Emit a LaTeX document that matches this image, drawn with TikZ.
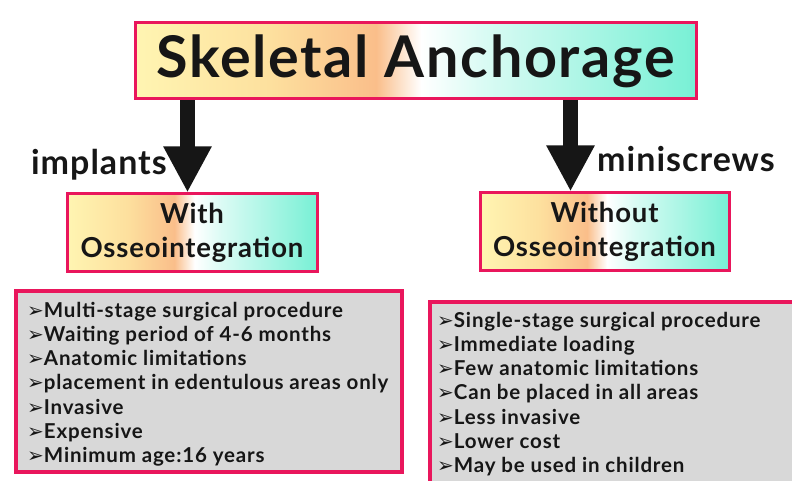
\documentclass[tikz,border=0pt]{standalone}
\usepackage{fontspec}
\setmainfont{Lato}
\newfontfamily\widefont{Lato}[LetterSpace=4]
\newfontfamily\midfont{Lato}[LetterSpace=3]
\newfontfamily\symfont{DejaVu Sans}
\usetikzlibrary{arrows.meta}
\definecolor{pinkb}{RGB}{233,22,92}
\definecolor{grayf}{RGB}{216,216,216}
\definecolor{ink}{RGB}{22,22,22}
\definecolor{gy}{RGB}{255,245,178}
\definecolor{gy2}{RGB}{253,224,158}
\definecolor{go}{RGB}{250,190,138}
\definecolor{gc1}{RGB}{218,251,244}
\definecolor{gc}{RGB}{120,240,213}
\pgfdeclarehorizontalshading{anchorgrad}{100bp}{color(0bp)=(gy); color(25bp)=(gy); color(37bp)=(gy2); color(46.5bp)=(go); color(50.5bp)=(white); color(56bp)=(gc1); color(75bp)=(gc); color(100bp)=(gc)}
\tikzset{
  gradbox/.style={draw=pinkb, line width=3pt, shading=anchorgrad, inner sep=0pt, text=ink, align=center},
  listbox/.style={draw=pinkb, line width=3.5pt, fill=grayf},
  bigarrow/.style={draw=ink, line width=15pt, -{Triangle[width=45pt,length=46pt]}},
  lbl/.style={text=ink, font=\midfont\bfseries\fontsize{34}{34}\selectfont, inner sep=0pt},
  item/.style={text=ink, anchor=base west, inner sep=0pt, font=\widefont\bfseries\fontsize{20.5}{20.5}\selectfont},
}
\newcommand{\blt}{{\symfont\fontsize{20}{20}\selectfont ➢}}
\begin{document}
\begin{tikzpicture}[x=1pt,y=-1pt]
\useasboundingbox (0,0) rectangle (792,481);
\clip (0,0) rectangle (792,481);
% boxes
\node[gradbox, minimum width=561pt, minimum height=76pt, font=\midfont\bfseries\fontsize{57.5}{57.5}\selectfont] (top) at (415.5,61) {Skeletal Anchorage};
\node[gradbox, minimum width=250pt, minimum height=77pt, font=\midfont\bfseries\fontsize{27.5}{34}\selectfont] (midL) at (192,232.5) {With\\Osseointegration};
\node[gradbox, minimum width=249pt, minimum height=77pt, font=\midfont\bfseries\fontsize{27.5}{34}\selectfont] (midR) at (604.5,231.5) {Without\\Osseointegration};
\node[listbox, minimum width=386pt, minimum height=181pt] (botL) at (209,381.5) {};
\node[listbox, minimum width=380pt, minimum height=198pt] (botR) at (620,401) {};
% arrows
\coordinate (aL) at (187.5,0);
\coordinate (aR) at (570.5,0);
\draw[bigarrow] (top.south -| aL) -- (midL.north -| aL);
\draw[bigarrow] (top.south -| aR) -- (midR.north -| aR);
% labels
\node[lbl, anchor=base east] (impl) at (167,175) {implants};
\node[lbl, anchor=base west] (mini) at (597,172) {miniscrews};
% lists
\foreach \t [count=\i from 0] in {Multi-stage surgical procedure, Waiting period of 4-6 months, Anatomic limitations, placement in edentulous areas only, Invasive, Expensive, Minimum age:16 years}
  \node[item] (l\i) at (27,317+24.3*\i) {\blt\t};
\foreach \t [count=\i from 0] in {Single-stage surgical procedure, Immediate loading, Few anatomic limitations, Can be placed in all areas, Less invasive, Lower cost, May be used in children}
  \node[item] (r\i) at (437,327+24.3*\i) {\blt\t};
\end{tikzpicture}
\end{document}
